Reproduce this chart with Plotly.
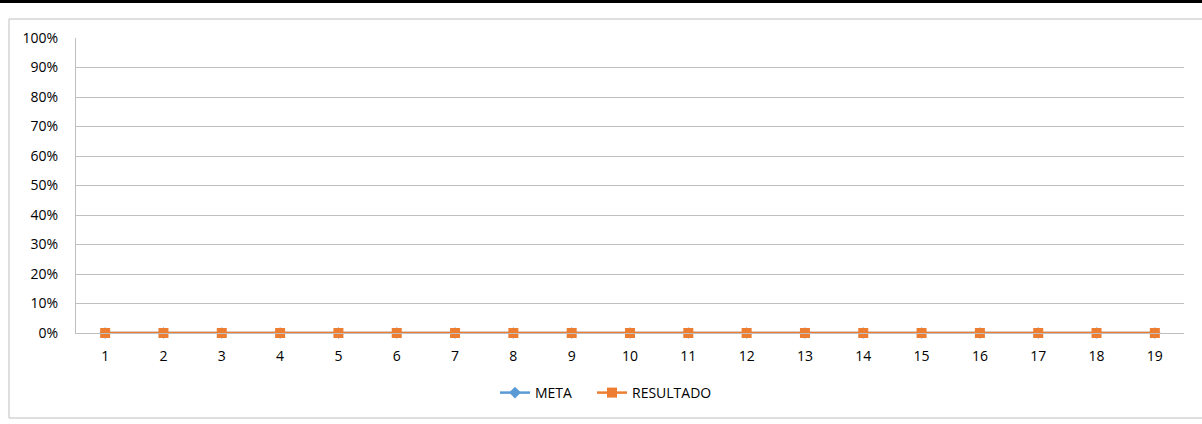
import plotly.graph_objects as go

categories = [str(i) for i in range(1, 20)]
meta = [0] * 19
resultado = [0] * 19
y_ticks = [i / 10 for i in range(11)]
y_labels = [f"{i*10}%" for i in range(11)]

W, H = 1202, 424
L, R, T, B = 76, 18, 38, 91
pw, ph = W - L - R, H - T - B

def px_x(p):
    return (p - L) / pw

def px_y(p):
    return (H - B - p) / ph

fig = go.Figure()
fig.add_trace(go.Scatter(x=categories, y=meta, name="META", mode="lines+markers",
                         cliponaxis=False, legend="legend",
                         line=dict(color="#5B9BD5", width=2.5),
                         marker=dict(symbol="diamond", size=9, color="#5B9BD5")))
fig.add_trace(go.Scatter(x=categories, y=resultado, name="RESULTADO", mode="lines+markers",
                         cliponaxis=False, legend="legend2",
                         line=dict(color="#ED7D31", width=2.5),
                         marker=dict(symbol="square", size=10, color="#ED7D31")))

font = "Open Sans, Liberation Sans, sans-serif"
leg_common = dict(orientation="h", yanchor="middle", y=px_y(393), xanchor="left",
                  font=dict(size=14, color="#000000"), itemwidth=30,
                  bgcolor="rgba(0,0,0,0)")
fig.update_layout(
    width=W, height=H,
    margin=dict(l=L, r=R, t=T, b=B),
    paper_bgcolor="white", plot_bgcolor="white",
    font=dict(family=font, size=14, color="#000000"),
    showlegend=True,
    legend=dict(x=px_x(495), **leg_common),
    legend2=dict(x=px_x(592), **leg_common),
    xaxis=dict(type="category", range=[-0.5, 18.5], showgrid=False, showline=True,
               linecolor="#BFBFBF", linewidth=1, ticks="", tickfont=dict(size=14),
               ticklabelstandoff=10, zeroline=False, fixedrange=True),
    yaxis=dict(range=[0, 1], tickvals=y_ticks, ticktext=y_labels, showgrid=True,
               gridcolor="#BFBFBF", gridwidth=1, showline=True, linecolor="#BFBFBF",
               linewidth=1, ticks="", zeroline=False, tickfont=dict(size=14),
               ticklabelstandoff=14, fixedrange=True),
    shapes=[
        dict(type="rect", xref="paper", yref="paper",
             x0=px_x(9), x1=px_x(1210), y0=px_y(418), y1=px_y(19),
             line=dict(color="#BFBFBF", width=1), fillcolor="rgba(0,0,0,0)", layer="below"),
        dict(type="rect", xref="paper", yref="paper",
             x0=px_x(-5), x1=px_x(1210), y0=px_y(3), y1=px_y(-2),
             line=dict(width=0), fillcolor="#000000"),
    ],
)

fig.write_html("out.html", config={"displayModeBar": False},
               post_script="document.body.style.margin='0';document.body.style.overflow='hidden';")
